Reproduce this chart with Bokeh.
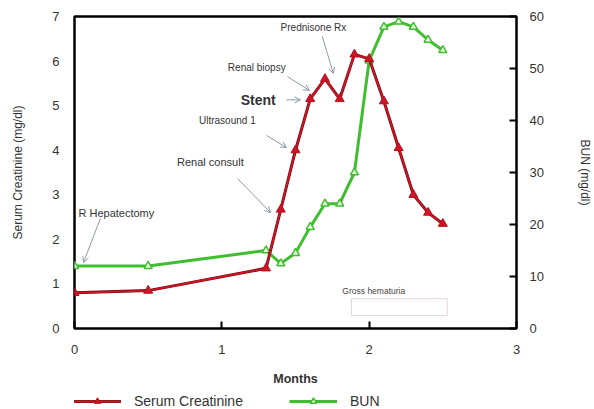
import math
from bokeh.plotting import figure
from bokeh.layouts import column
from bokeh.models import (Range1d, LinearAxis, FixedTicker, Legend, LegendItem,
                          Arrow, OpenHead, Label, BoxAnnotation)
from bokeh.embed import file_html
from bokeh.resources import INLINE

# ---- data ----
months = [0, 0.5, 1.3, 1.4, 1.5, 1.6, 1.7, 1.8, 1.9, 2.0, 2.1, 2.2, 2.3, 2.4, 2.5]
creatinine = [0.8, 0.85, 1.35, 2.67, 4.0, 5.15, 5.6, 5.15, 6.15, 6.05, 5.1, 4.05, 3.0, 2.6, 2.35]
bun = [12, 12, 15, 12.5, 14.5, 19.5, 24, 24, 30, 51.5, 58, 59, 58, 55.5, 53.5]

x_ticks = [0, 1, 2, 3]
creat_ticks = [0, 1, 2, 3, 4, 5, 6, 7]
bun_ticks = [0, 10, 20, 30, 40, 50, 60]

event_labels = ["R Hepatectomy", "Renal consult", "Ultrasound 1", "Stent", "Renal biopsy", "Prednisone Rx"]
event_x = [0.027, 0.696, 0.845, 1.128, 1.041, 1.399]
event_y = [2.60, 3.74, 4.66, 5.13, 5.85, 6.75]
event_size = ["11px", "11px", "10px", "14px", "10px", "10px"]
arrow_x0 = [0.176, 1.108, 1.304, 1.439, 1.446, 1.682]
arrow_y0 = [2.47, 3.36, 4.33, 5.13, 5.65, 6.55]
arrow_x1 = [0.061, 1.331, 1.439, 1.534, 1.595, 1.757]
arrow_y1 = [1.48, 2.60, 4.06, 5.13, 5.34, 5.72]

hematuria_text = "Gross hematuria"
hematuria_text_pos = [1.818, 0.85]
hematuria_x = [1.88, 2.53]
hematuria_y = [0.29, 0.67]

bun_axis_title = "BUN (mg/dl)"
series_names = ["Serum Creatinine", "BUN"]

FONT = "Liberation Sans"
RED = "#d01424"
GREEN = "#3fbf30"
ARROW = "#8d9ba8"

p = figure(width=594, height=393, x_range=Range1d(0, 3), y_range=Range1d(0, 7),
           output_backend="svg", toolbar_location=None,
           min_border_left=74, min_border_right=75, min_border_top=16, min_border_bottom=65)
p.extra_y_ranges = {"bun": Range1d(0, 60)}

p.xgrid.visible = False
p.ygrid.visible = False
p.outline_line_color = "black"
p.outline_line_width = 2.5
p.background_fill_color = "white"
p.border_fill_color = "white"

# x axis
xa = p.xaxis[0]
xa.ticker = FixedTicker(ticks=x_ticks)
xa.axis_label = "Months"
xa.axis_label_text_font = FONT
xa.axis_label_text_font_size = "12.5px"
xa.axis_label_text_font_style = "bold"
xa.axis_label_text_color = "#333333"
xa.axis_label_standoff = 15
xa.major_label_text_font = FONT
xa.major_label_text_font_size = "13px"
xa.major_label_text_color = "#333333"
xa.major_label_standoff = 16
xa.major_tick_in = 7
xa.major_tick_out = 0
xa.major_tick_line_width = 2
xa.minor_tick_line_color = None
xa.axis_line_color = None

# left axis
ya = p.yaxis[0]
ya.ticker = FixedTicker(ticks=creat_ticks)
ya.axis_label = "Serum Creatinine (mg/dl)"
ya.axis_label_text_font = FONT
ya.axis_label_text_font_size = "12px"
ya.axis_label_text_font_style = "normal"
ya.axis_label_text_color = "#333333"
ya.axis_label_standoff = 24
ya.major_label_text_font = FONT
ya.major_label_text_font_size = "13px"
ya.major_label_text_color = "#333333"
ya.major_label_standoff = 15
ya.major_tick_in = 0
ya.major_tick_out = 0
ya.minor_tick_line_color = None
ya.axis_line_color = None

# right axis
ra = LinearAxis(y_range_name="bun", ticker=FixedTicker(ticks=bun_ticks))
ra.axis_label = bun_axis_title
ra.axis_label_text_font = FONT
ra.axis_label_text_font_size = "12px"
ra.axis_label_text_font_style = "normal"
ra.axis_label_text_color = "#333333"
ra.axis_label_standoff = 31
ra.major_label_text_font = FONT
ra.major_label_text_font_size = "13px"
ra.major_label_text_color = "#333333"
ra.major_label_standoff = 13
ra.major_tick_in = 7
ra.major_tick_out = 0
ra.major_tick_line_width = 2
ra.minor_tick_line_color = None
ra.axis_line_color = None
p.add_layout(ra, "right")

# gross hematuria box
p.add_layout(BoxAnnotation(left=hematuria_x[0], right=hematuria_x[1],
                           bottom=hematuria_y[0], top=hematuria_y[1],
                           fill_color="white", fill_alpha=1.0,
                           line_color="#b07c7c", line_width=1))
p.add_layout(Label(x=hematuria_text_pos[0], y=hematuria_text_pos[1], text=hematuria_text,
                   text_font=FONT, text_font_size="8.5px", text_color="#444444",
                   text_baseline="middle", text_align="left"))

# event annotations
for t, lx, ly, fs, x0, y0, x1, y1 in zip(event_labels, event_x, event_y, event_size,
                                         arrow_x0, arrow_y0, arrow_x1, arrow_y1):
    p.add_layout(Label(x=lx, y=ly, text=t, text_font=FONT, text_font_size=fs,
                       text_color="#333333", text_baseline="middle", text_align="left",
                       text_font_style="bold" if t == "Stent" else "normal"))
    p.add_layout(Arrow(x_start=x0, y_start=y0, x_end=x1, y_end=y1,
                       line_color=ARROW, line_width=1,
                       end=OpenHead(size=6, line_color=ARROW, line_width=1)))

# series
p.line(months, bun, y_range_name="bun", line_color=GREEN, line_width=3)
p.scatter(months, bun, y_range_name="bun", marker="triangle", size=8,
          line_color=GREEN, line_width=1.5, fill_color="#e8f8e0")
p.line(months, creatinine, line_color="#6a0c16", line_width=3)
p.line(months, creatinine, line_color=RED, line_width=1.8)
p.scatter(months, creatinine, marker="triangle", size=9,
          line_color="#b01020", line_width=1, fill_color=RED)

# ---- legend strip below the chart (series drawn off-range; only legend shows) ----
lg = figure(width=594, height=16, x_range=Range1d(10, 11), y_range=Range1d(-10, -9),
            output_backend="svg", toolbar_location=None,
            x_axis_location=None, y_axis_location=None,
            min_border=0, outline_line_color=None)
lg.xgrid.visible = False
lg.ygrid.visible = False
lc_dark = lg.line(months, creatinine, line_color="#6a0c16", line_width=3)
lc = lg.line(months, creatinine, line_color=RED, line_width=1.8)
lcs = lg.scatter(months, creatinine, marker="triangle", size=9, line_color="#b01020",
                 line_width=1, fill_color=RED)
lb = lg.line(months, bun, line_color=GREEN, line_width=3)
lbs = lg.scatter(months, bun, marker="triangle", size=8, line_color=GREEN,
                 line_width=1.5, fill_color="#e8f8e0")
legend = Legend(items=[LegendItem(label=series_names[0], renderers=[lc_dark, lc, lcs]),
                       LegendItem(label=series_names[1], renderers=[lb, lbs])],
                location=(-1, 0), orientation="horizontal",
                padding=0, margin=0, spacing=46, glyph_width=48, glyph_height=16,
                label_height=16, label_standoff=13,
                label_text_font=FONT, label_text_font_size="14px", label_text_color="#333333",
                background_fill_alpha=0, border_line_color=None)
lg.add_layout(legend, "center")

layout = column(p, lg, spacing=0)
open("out.html", "w").write(file_html(layout, INLINE))
